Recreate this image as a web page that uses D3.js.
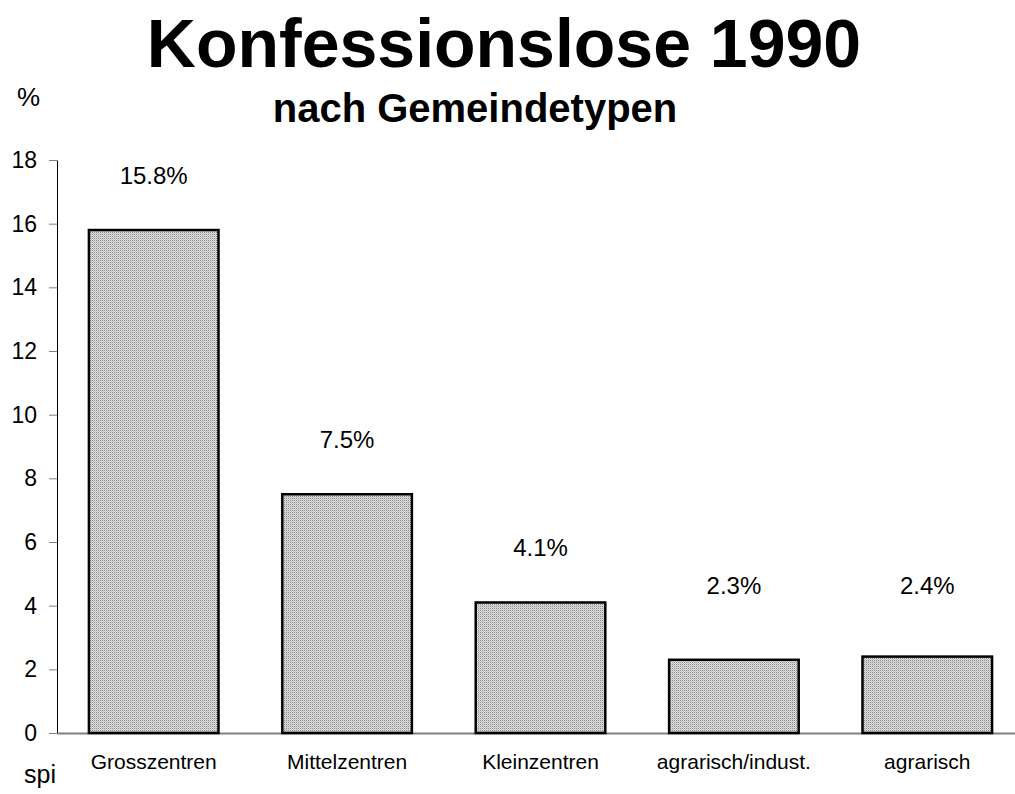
<!DOCTYPE html>
<html>
<head>
<meta charset="utf-8">
<script src="https://cdn.jsdelivr.net/npm/d3@7"></script>
<style>
  body { margin: 0; background: #fff; }
  svg { display: block; font-family: "Liberation Sans", Arial, sans-serif; }
  .axis text { fill: #000; }
</style>
</head>
<body>
<div id="chart"></div>
<script>
var categories = ["Grosszentren", "Mittelzentren", "Kleinzentren", "agrarisch/indust.", "agrarisch"];
var values = [15.8, 7.5, 4.1, 2.3, 2.4];
var valueLabels = ["15.8%", "7.5%", "4.1%", "2.3%", "2.4%"];
var yTicks = [0, 2, 4, 6, 8, 10, 12, 14, 16, 18];
var title = "Konfessionslose 1990";
var subtitle = "nach Gemeindetypen";

var w = 1015, h = 794;

var svg = d3.select("#chart")
    .append("svg")
    .attr("width", w)
    .attr("height", h);

svg.append("rect").attr("width", w).attr("height", h).attr("fill", "#fff");

// dotted grey fill like the old excel pattern
var defs = svg.append("defs");
var pat = defs.append("pattern")
    .attr("id", "dots")
    .attr("patternUnits", "userSpaceOnUse")
    .attr("width", 2)
    .attr("height", 2);
pat.append("rect").attr("width", 2).attr("height", 2).attr("fill", "#dcdcdc");
pat.append("rect").attr("width", 1).attr("height", 1).attr("fill", "#8c8c8c");
pat.append("rect").attr("x", 1).attr("y", 1).attr("width", 1).attr("height", 1).attr("fill", "#c4c4c4");

var margin = {left: 57, top: 160, bottom: 733}
    , x = d3.scaleBand()
        .domain(categories)
        .range([margin.left, 1024])
        .paddingInner(0.33)
        .paddingOuter(0.165)
    , y = d3.scaleLinear()
        .domain([0, 18])
        .range([margin.bottom, margin.top])
    ;

// titles
svg.append("text")
    .attr("x", 504)
    .attr("y", 67)
    .attr("text-anchor", "middle")
    .attr("font-weight", "bold")
    .attr("font-size", 68)
    .text(title);

svg.append("text")
    .attr("x", 475)
    .attr("y", 122)
    .attr("text-anchor", "middle")
    .attr("font-weight", "bold")
    .attr("font-size", 40)
    .text(subtitle);

svg.append("text")
    .attr("x", 17)
    .attr("y", 106)
    .attr("font-size", 26)
    .text("%");

svg.append("text")
    .attr("x", 24)
    .attr("y", 783)
    .attr("font-size", 25)
    .text("spi");

// axes
var yAxis = d3.axisLeft(y)
    .tickValues(yTicks)
    .tickSizeInner(8)
    .tickSizeOuter(0)
    .tickPadding(12);

var gy = svg.append("g")
    .attr("class", "axis axis--y")
    .attr("transform", "translate(" + margin.left + ",0)")
    .call(yAxis);
gy.selectAll("text").attr("font-size", 23).attr("font-family", null);
gy.selectAll(".tick line").attr("stroke", "#808080");
gy.select(".domain").attr("stroke", "#000");

var xAxis = d3.axisBottom(x)
    .tickSize(0)
    .tickPadding(21);

var gx = svg.append("g")
    .attr("class", "axis axis--x")
    .attr("transform", "translate(0," + margin.bottom + ")")
    .call(xAxis);
gx.selectAll("text").attr("font-size", 21).attr("font-family", null);
gx.select(".domain").attr("stroke", "#808080").attr("stroke-width", 2);

// bars
svg.append("g")
    .selectAll("rect")
    .data(values)
    .enter()
    .append("rect")
    .attr("x", (d, i) => x(categories[i]))
    .attr("y", d => y(d))
    .attr("width", x.bandwidth())
    .attr("height", d => y(0) - y(d))
    .attr("fill", "url(#dots)")
    .attr("stroke", "#000")
    .attr("stroke-width", 2.5);

// value labels, small bars get pushed up a bit like in the original
svg.append("g")
    .selectAll("text")
    .data(values)
    .enter()
    .append("text")
    .attr("x", (d, i) => x(categories[i]) + x.bandwidth() / 2)
    .attr("y", d => Math.min(y(d) - 46, y(0) - 139))
    .attr("text-anchor", "middle")
    .attr("font-size", 24)
    .text((d, i) => valueLabels[i]);
</script>
</body>
</html>
